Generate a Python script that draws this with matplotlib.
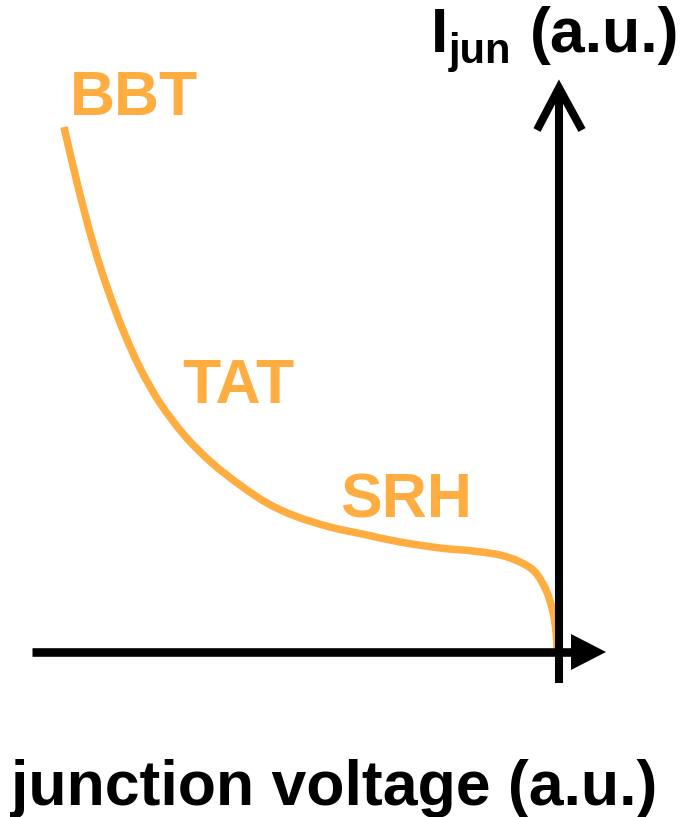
import matplotlib
matplotlib.use("Agg")
import matplotlib.pyplot as plt
from matplotlib.path import Path
from matplotlib.patches import PathPatch

# ---- data (a.u.) ----
voltage = [-4.95, -4.85, -4.75, -4.64, -4.51, -4.36, -4.19, -3.99, -3.74, -3.47,
           -3.19, -2.92, -2.64, -2.29, -1.92, -1.59, -1.19, -0.86, -0.59, -0.39,
           -0.24, -0.13, -0.06, -0.03, -0.02]
current = [5.25, 4.82, 4.42, 4.02, 3.62, 3.22, 2.84, 2.49, 2.16, 1.89,
           1.67, 1.49, 1.36, 1.25, 1.17, 1.10, 1.04, 1.01, 0.97, 0.90,
           0.80, 0.62, 0.40, 0.20, 0.04]
region_labels = ["BBT", "TAT", "SRH"]
region_pos = [(-4.89, 5.37), (-3.77, 2.49), (-2.19, 1.35)]
xlabel = "junction voltage (a.u.)"
ylabel_main, ylabel_sub, ylabel_unit = "I", "jun", "(a.u.)"

orange = "#FFAC40"
FONT = "Liberation Sans"

fig = plt.figure(figsize=(6.84, 8.17), dpi=100)
ax = fig.add_axes([0, 0, 1, 1])
ax.set_xlim(-5.59, 1.25)
ax.set_ylim(-1.65, 6.52)
ax.axis("off")

# axes arrows
ax.plot([-5.27, 0.14], [0, 0], color="black", lw=6.2, solid_capstyle="butt")
ax.fill([0.12, 0.47, 0.12], [0.18, 0.0, -0.18], color="black", lw=0)
ax.plot([0, 0], [-0.31, 5.60], color="black", lw=5.8, solid_capstyle="butt")
ax.plot([-0.22, 0, 0.23], [5.22, 5.64, 5.22], color="black", lw=5.8,
        solid_joinstyle="miter", solid_capstyle="butt")

# smooth curve through the points (Catmull-Rom as cubic Bezier path)
pts = list(zip(voltage, current))
n = len(pts)
verts = [pts[0]]
codes = [Path.MOVETO]
for i in range(n - 1):
    p0 = pts[i - 1] if i > 0 else pts[i]
    p1 = pts[i]
    p2 = pts[i + 1]
    p3 = pts[i + 2] if i + 2 < n else pts[i + 1]
    c1 = (p1[0] + (p2[0] - p0[0]) / 6, p1[1] + (p2[1] - p0[1]) / 6)
    c2 = (p2[0] - (p3[0] - p1[0]) / 6, p2[1] - (p3[1] - p1[1]) / 6)
    verts += [c1, c2, p2]
    codes += [Path.CURVE4] * 3
ax.add_patch(PathPatch(Path(verts, codes), facecolor="none", edgecolor=orange,
                       lw=5.4, capstyle="butt", joinstyle="round"))

for lab, (x, y) in zip(region_labels, region_pos):
    ax.text(x, y, lab, color=orange, fontsize=45, fontweight="bold",
            family=FONT, ha="left", va="baseline")

# y label
ax.text(-1.28, 6.00, ylabel_main, fontsize=45, fontweight="bold",
        family=FONT, ha="left", va="baseline")
ax.text(-1.10, 5.89, ylabel_sub, fontsize=30, fontweight="bold",
        family=FONT, ha="left", va="baseline")
ax.text(-0.29, 6.00, ylabel_unit, fontsize=45, fontweight="bold",
        family=FONT, ha="left", va="baseline")

# x label
ax.text(-2.25, -1.53, xlabel, fontsize=45, fontweight="bold",
        family=FONT, ha="center", va="baseline")

fig.savefig("out.png", dpi=100)
